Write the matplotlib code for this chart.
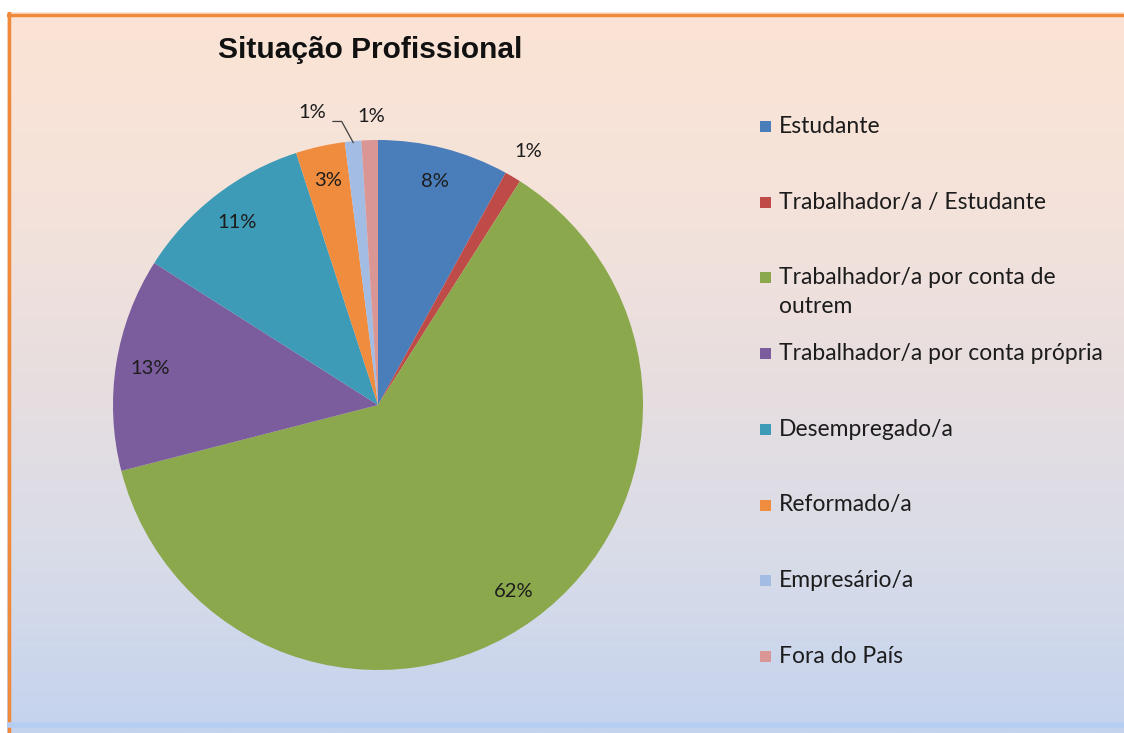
import numpy as np
import matplotlib

matplotlib.use("Agg")
import matplotlib.pyplot as plt
from matplotlib.colors import LinearSegmentedColormap
from matplotlib.patches import Rectangle
from matplotlib.lines import Line2D


TITLE = "Situação Profissional"
CATEGORIES = [
    "Estudante",
    "Trabalhador/a / Estudante",
    "Trabalhador/a por conta de\noutrem",
    "Trabalhador/a por conta própria",
    "Desempregado/a",
    "Reformado/a",
    "Empresário/a",
    "Fora do País",
]
PERCENTAGES = [8, 1, 62, 13, 11, 3, 1, 1]
COLORS = ["#4A7EBB", "#BE4B48", "#8BA84C", "#7B5C9D", "#3E9BB7", "#F08C3E", "#A3BCE3", "#D99694"]
OUTSIDE = {1: 1.11, 6: 1.12, 7: 1.09}

W, H = 1124, 733
TEXT_FONT = ["Lato", "DejaVu Sans"]
LABEL_COLOR = "#1c1c1c"

fig = plt.figure(figsize=(W / 100, H / 100), dpi=100)
fig.patch.set_facecolor("white")

# gradient panel behind everything
bg = fig.add_axes([7 / W, 0, 1 - 7 / W, (H - 12) / H], zorder=0)
grad = LinearSegmentedColormap.from_list(
    "panel", ["#fbe4d4", "#f5e3da", "#e8dedf", "#d9dce8", "#c4d3ee"]
)
bg.imshow(np.linspace(0, 1, 256).reshape(-1, 1), aspect="auto", cmap=grad, extent=[0, 1, 0, 1])
bg.axhline(0.996, color="#f08a3a", linewidth=2.5)
bg.axvline(0.002, color="#f08a3a", linewidth=2.5)
bg.axhline(0.011, color="#b6cdf2", linewidth=4)
bg.set_xlim(0, 1)
bg.set_ylim(0, 1)
bg.axis("off")

cx, cy, r = 378, 405, 265
ax = fig.add_axes([(cx - r) / W, (H - cy - r) / H, 2 * r / W, 2 * r / H], zorder=1)
ax.patch.set_alpha(0)
wedges, texts, autotexts = ax.pie(
    PERCENTAGES,
    colors=COLORS,
    startangle=90,
    counterclock=False,
    autopct=lambda p: f"{p:.0f}%",
    pctdistance=0.87,
    wedgeprops={"linewidth": 0},
    textprops={"fontsize": 14.5, "color": LABEL_COLOR, "family": TEXT_FONT},
)
ax.set_xlim(-1, 1)
ax.set_ylim(-1, 1)
ax.set_aspect("equal")

for idx, dist in OUTSIDE.items():
    w = wedges[idx]
    mid = np.deg2rad((w.theta1 + w.theta2) / 2)
    autotexts[idx].set_position((dist * np.cos(mid), dist * np.sin(mid)))

# Empresário label sits left with a leader line
w = wedges[6]
mid = np.deg2rad((w.theta1 + w.theta2) / 2)
tip = (0.995 * np.cos(mid), 0.995 * np.sin(mid))
autotexts[6].set_position((-0.25, 1.105))
ax.add_line(Line2D([tip[0], -0.137, -0.17], [tip[1], 1.07, 1.07], color="#404040", linewidth=0.9, clip_on=False))
autotexts[7].set_position((-0.025, 1.09))
for t in autotexts:
    t.set_clip_on(False)

fig.text(370 / W, 1 - 50 / H, TITLE, ha="center", va="center", fontsize=21.5,
         fontweight="bold", family="Liberation Sans", color="#111111")

# legend in fixed slots like the source chart; wrapped lines overflow the slot
slot = 75.7
line_gap = 29
for i, (label, color) in enumerate(zip(CATEGORIES, COLORS)):
    y = 126 + i * slot
    fig.patches.append(Rectangle((760 / W, 1 - (y + 6) / H), 11 / W, 11 / H,
                                 transform=fig.transFigure, facecolor=color, edgecolor="none"))
    for j, line in enumerate(label.split("\n")):
        fig.text(779 / W, 1 - (y + 7 + j * line_gap) / H, line, ha="left", va="baseline",
                 fontsize=16.5, family=TEXT_FONT, color=LABEL_COLOR)

fig.savefig("out.png", dpi=100)
